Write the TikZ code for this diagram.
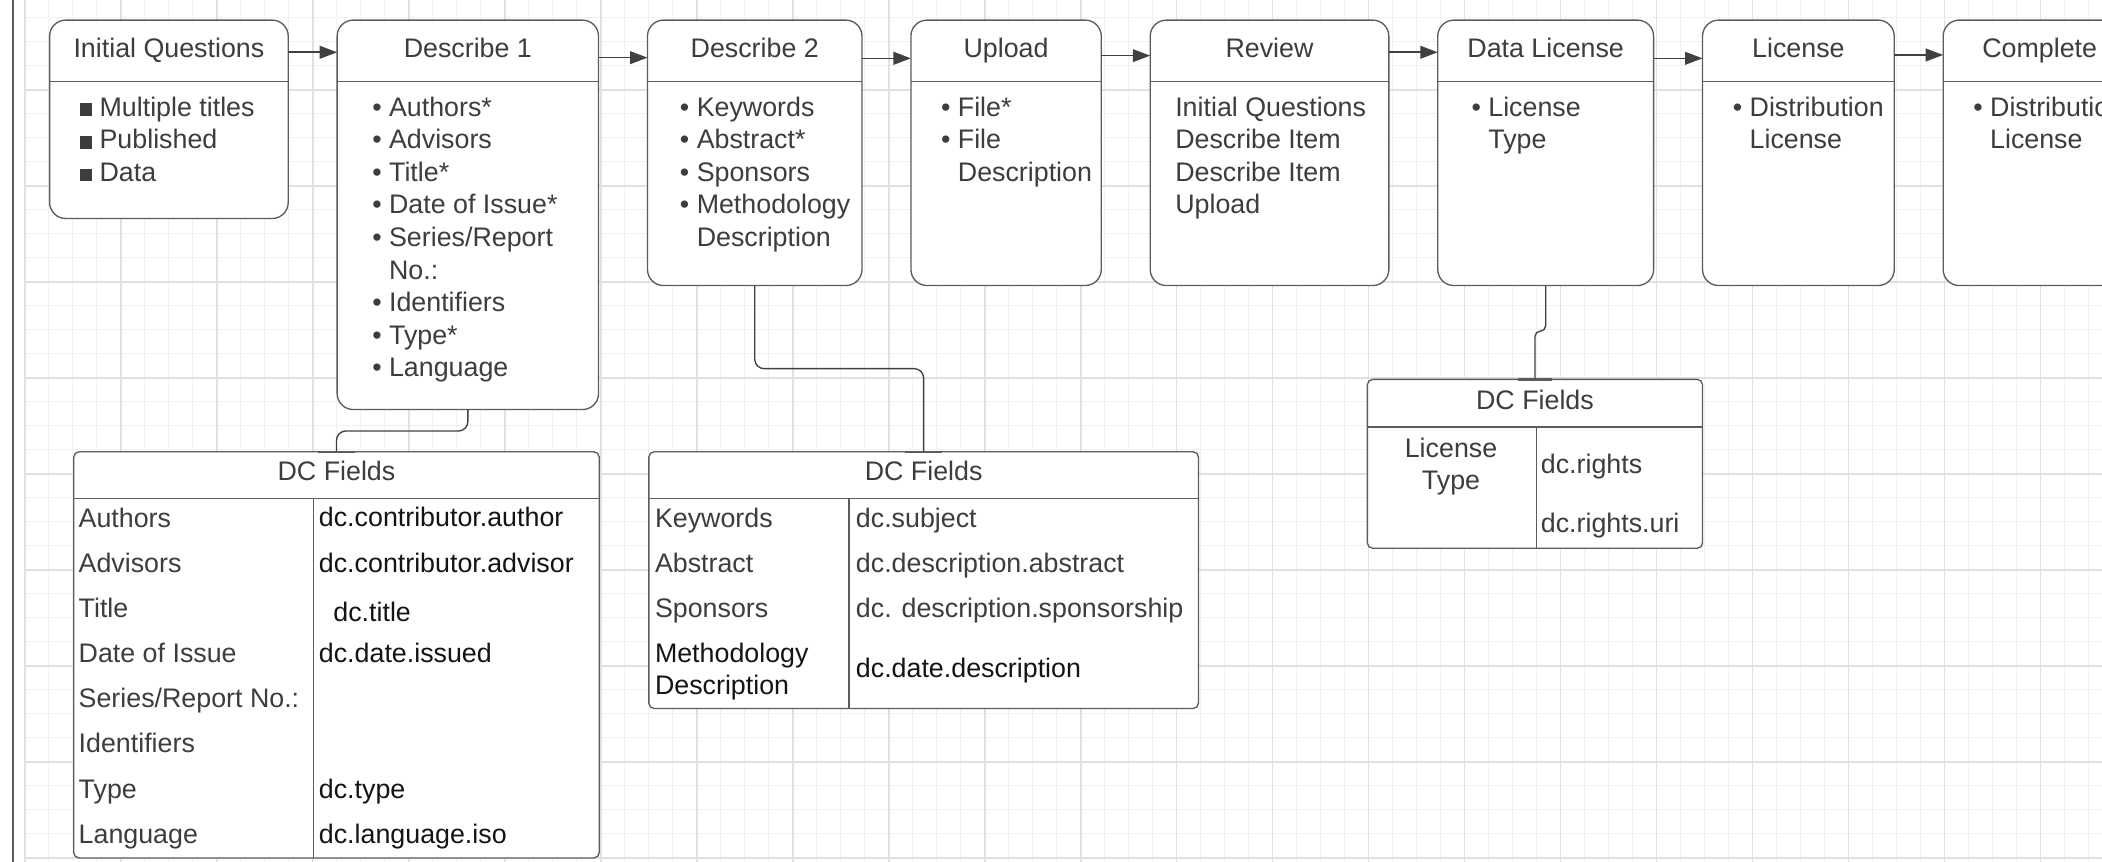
\documentclass[tikz,border=0pt]{standalone}
\usepackage{fontspec}
\setmainfont{Liberation Sans}
\usepackage{xcolor}
\definecolor{colorBorder}{HTML}{5C5C5C}
\definecolor{colorText}{HTML}{3D3D3D}
\definecolor{colorDark}{HTML}{141414}
\definecolor{colorArrow}{HTML}{404040}
\definecolor{colorGridMinor}{HTML}{F1F1F1}
\definecolor{colorGridMajor}{HTML}{E1E1E1}
\usepackage{tikz}
\usetikzlibrary{arrows.meta, positioning}
\tikzset{
  stage/.style={draw=colorBorder, fill=white, line width=1pt, rounded corners=12pt, inner sep=0pt, outer sep=0pt},
  fieldTable/.style={draw=colorBorder, fill=white, line width=1pt, rounded corners=4pt, inner sep=0pt, outer sep=0pt, anchor=north west},
  stageTitle/.style={anchor=base, inner sep=0pt},
  cellText/.style={anchor=north west, align=left, inner sep=0pt},
  tableRows/.style={font=\fontsize{20pt}{33.6pt}\selectfont},
  divider/.style={draw=colorBorder, line width=1pt},
  link/.style={draw=colorArrow, line width=1pt, rounded corners=7pt},
  flow/.style={->, draw=colorArrow, line width=1.2pt},
  tick/.style={draw=colorBorder, line width=1.8pt}
}
\newcommand{\itemDot}{\textbullet\ }
\newcommand{\itemGap}{\phantom{\textbullet\ }}
\newcommand{\itemSquare}{\rule{9.5pt}{9.5pt}\hspace{5.4pt}}

\begin{document}
\begin{tikzpicture}[x=1pt, y=-1pt, >={Triangle[length=13pt, width=9.5pt]}, node distance=36.5pt,
  every node/.style={font=\fontsize{20pt}{24.3pt}\selectfont, text=colorText}]
\useasboundingbox (0,0) rectangle (1568,643);
\clip (0,0) rectangle (1568,643);

% grid paper
\foreach \gx in {18.6,36.5,...,1568} \draw[colorGridMinor, line width=0.75pt] (\gx,0) -- (\gx,643);
\foreach \gy in {13.4,31.3,...,643} \draw[colorGridMinor, line width=0.75pt] (18.6,\gy) -- (1568,\gy);
\foreach \gx in {18.6,90.2,...,1568} \draw[colorGridMajor, line width=1.1pt] (\gx,0) -- (\gx,643);
\foreach \gy in {-4.5,67.1,...,643} \draw[colorGridMajor, line width=1.1pt] (18.6,\gy) -- (1568,\gy);
\draw[colorBorder, line width=1.5pt] (9.9,0) -- (9.9,643);

% submission steps
\node[stage, minimum width=178pt, minimum height=148pt, anchor=north west] (initQ) at (37,15) {};
\node[stage, minimum width=195pt, minimum height=290.5pt, right=of initQ.north east, anchor=north west] (desc1) {};
\node[stage, minimum width=160pt, minimum height=198pt, right=of desc1.north east, anchor=north west] (desc2) {};
\node[stage, minimum width=142pt, minimum height=198pt, right=of desc2.north east, anchor=north west] (upload) {};
\node[stage, minimum width=178pt, minimum height=198pt, right=of upload.north east, anchor=north west] (review) {};
\node[stage, minimum width=161pt, minimum height=198pt, right=of review.north east, anchor=north west] (dataLic) {};
\node[stage, minimum width=143pt, minimum height=198pt, right=of dataLic.north east, anchor=north west] (license) {};
\node[stage, minimum width=144pt, minimum height=198pt, right=of license.north east, anchor=north west] (complete) {};
\foreach \s in {initQ,desc1,desc2,upload,review,dataLic,license,complete}
  \draw[divider] ([yshift=-46pt]\s.north west) -- ([yshift=-46pt]\s.north east);

\node[below=28.2pt of initQ.north, stageTitle] (initQTitle) {Initial Questions};
\node[below=28.2pt of desc1.north, stageTitle] (desc1Title) {Describe 1};
\node[below=28.2pt of desc2.north, stageTitle] (desc2Title) {Describe 2};
\node[below=28.2pt of upload.north, stageTitle] (uploadTitle) {Upload};
\node[below=28.2pt of review.north, stageTitle] (reviewTitle) {Review};
\node[below=28.2pt of dataLic.north, stageTitle] (dataLicTitle) {Data License};
\node[below=28.2pt of license.north, stageTitle] (licenseTitle) {License};
\node[below=28.2pt of complete.north, stageTitle] (completeTitle) {Complete};

\node[below right=57pt and 22.2pt of initQ.north west, cellText] (initQBody) {\itemSquare Multiple titles\\\itemSquare Published\\\itemSquare Data};
\node[below right=57pt and 26pt of desc1.north west, cellText] (desc1Body) {\itemDot Authors*\\\itemDot Advisors\\\itemDot Title*\\\itemDot Date of Issue*\\\itemDot Series/Report\\\itemGap No.:\\\itemDot Identifiers\\\itemDot Type*\\\itemDot Language};
\node[below right=57pt and 24pt of desc2.north west, cellText] (desc2Body) {\itemDot Keywords\\\itemDot Abstract*\\\itemDot Sponsors\\\itemDot Methodology\\\itemGap Description};
\node[below right=57pt and 22.3pt of upload.north west, cellText] (uploadBody) {\itemDot File*\\\itemDot File\\\itemGap Description};
\node[below right=57pt and 18.5pt of review.north west, cellText] (reviewBody) {Initial Questions\\Describe Item\\Describe Item\\Upload};
\node[below right=57pt and 25pt of dataLic.north west, cellText] (dataLicBody) {\itemDot License\\\itemGap Type};
\node[below right=57pt and 22.4pt of license.north west, cellText] (licenseBody) {\itemDot Distribution\\\itemGap License};
\node[below right=57pt and 22.3pt of complete.north west, cellText] (completeBody) {\itemDot Distribution\\\itemGap License};

\draw[flow] ([yshift=-24pt]initQ.north east) -- ([yshift=-24pt]desc1.north west);
\draw[flow] ([yshift=-28pt]desc1.north east) -- ([yshift=-28pt]desc2.north west);
\draw[flow] ([yshift=-28.5pt]desc2.north east) -- ([yshift=-28.5pt]upload.north west);
\draw[flow] ([yshift=-26.5pt]upload.north east) -- ([yshift=-26.5pt]review.north west);
\draw[flow] ([yshift=-24pt]review.north east) -- ([yshift=-24pt]dataLic.north west);
\draw[flow] ([yshift=-28.5pt]dataLic.north east) -- ([yshift=-28.5pt]license.north west);
\draw[flow] ([yshift=-26pt]license.north east) -- ([yshift=-26pt]complete.north west);

% DC field tables
\node[fieldTable, minimum width=392pt, minimum height=303pt] (dc1) at (55,337) {};
\node[fieldTable, minimum width=410pt, minimum height=191.5pt] (dc2) at (484,337) {};
\node[fieldTable, minimum width=250pt, minimum height=126pt] (dc3) at (1020,283) {};
\draw[divider] ([yshift=-35pt]dc1.north west) -- ([yshift=-35pt]dc1.north east);
\draw[divider] ([shift={(179pt,-35pt)}]dc1.north west) -- ([xshift=179pt]dc1.south west);
\draw[divider] ([yshift=-35pt]dc2.north west) -- ([yshift=-35pt]dc2.north east);
\draw[divider] ([shift={(149.3pt,-35pt)}]dc2.north west) -- ([xshift=149.3pt]dc2.south west);
\draw[divider] ([yshift=-35.5pt]dc3.north west) -- ([yshift=-35.5pt]dc3.north east);
\draw[divider] ([shift={(126pt,-35.5pt)}]dc3.north west) -- ([xshift=126pt]dc3.south west);

\node (dc1Title) at ([yshift=-14pt]dc1.north) {DC Fields};
\node (dc2Title) at ([yshift=-14pt]dc2.north) {DC Fields};
\node (dc3Title) at ([yshift=-15.4pt]dc3.north) {DC Fields};

\node[below right=42pt and 3.5pt of dc1.north west, cellText, tableRows] (dc1Keys) {Authors\\Advisors\\Title\\Date of Issue\\Series/Report No.:\\Identifiers\\Type\\Language};
\node[below right=41pt and 182.7pt of dc1.north west, cellText, tableRows, text=colorDark] (dc1Values) {dc.contributor.author\\[1pt]dc.contributor.advisor\\[3pt]\hspace*{10.8pt}dc.title\\[-3pt]dc.date.issued\\\mbox{}\\\mbox{}\\dc.type\\dc.language.iso};
\node[below right=42pt and 4.4pt of dc2.north west, cellText, tableRows] (dc2Keys) {Keywords\\Abstract\\Sponsors\\\textcolor{colorDark}{Methodology}\\[-9.9pt]\textcolor{colorDark}{Description}};
\node[below right=42pt and 154.3pt of dc2.north west, cellText, tableRows] (dc2Values) {dc.subject\\dc.description.abstract\\dc. description.sponsorship\\[11.1pt]\textcolor{colorDark}{dc.date.description}};
\node[below right=43.5pt and 62.4pt of dc3.north west, anchor=north, align=center, inner sep=0pt] (dc3Keys) {License\\Type};
\node[below right=55.5pt and 129.2pt of dc3.north west, cellText] (dc3Values) {dc.rights\\[19.7pt]dc.rights.uri};

% links to the tables
\draw[link] (desc1.south) -- ++(0,16) -| (dc1.north);
\draw[link] (desc2.south) -- ++(0,62) -| (dc2.north);
\draw[link, rounded corners=4pt] (dataLic.south) -- ++(0,34) -| (dc3.north);
\draw[tick] ([xshift=-14pt]dc1.north) -- ([xshift=14pt]dc1.north);
\draw[tick] ([xshift=-14pt]dc2.north) -- ([xshift=14pt]dc2.north);
\draw[tick] ([xshift=-13pt]dc3.north) -- ([xshift=13pt]dc3.north);
\end{tikzpicture}
\end{document}
